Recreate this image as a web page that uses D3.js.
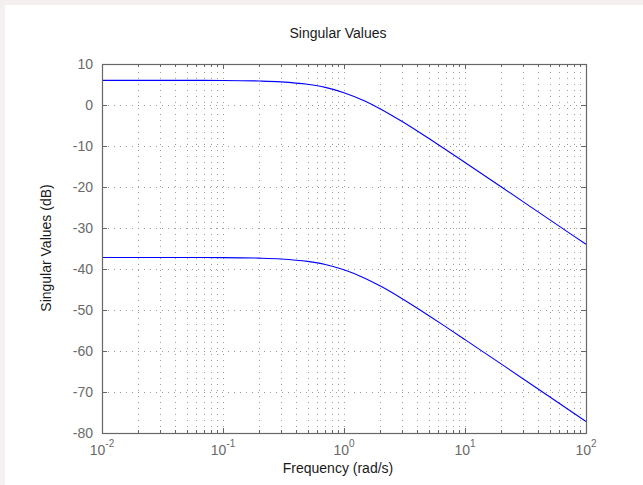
<!DOCTYPE html>
<html>
<head>
<meta charset="utf-8">
<script src="https://cdn.jsdelivr.net/npm/d3@7"></script>
<style>
  html, body { margin: 0; padding: 0; background: #ffffff; }
  svg { display: block; }
  text { font-family: "Liberation Sans", Arial, Helvetica, sans-serif; }
</style>
</head>
<body>
<svg id="chart" width="643" height="485"></svg>
<script>
// Frequency samples (rad/s)
const freqs = [0.01, 0.02, 0.05, 0.1, 0.2, 0.3, 0.5, 0.7, 1, 1.5, 2, 3, 5, 7, 10, 20, 50, 100];
// Largest singular value (dB)
const sigmaMax = [6.0, 6.0, 6.0, 5.98, 5.85, 5.65, 5.05, 4.29, 3.0, 0.9, -0.97, -3.98, -8.13, -10.97, -14.02, -20.0, -27.96, -33.98];
// Smallest singular value (dB)
const sigmaMin = [-37.2, -37.2, -37.2, -37.22, -37.35, -37.55, -38.15, -38.91, -40.2, -42.3, -44.17, -47.18, -51.33, -54.17, -57.22, -63.2, -71.16, -77.18];

const xDecades = [0.01, 0.1, 1, 10, 100];
const xExponents = ["-2", "-1", "0", "1", "2"];
const yTicks = [-80, -70, -60, -50, -40, -30, -20, -10, 0, 10];

const W = 643, H = 485;
const m = { left: 102, right: 586, top: 64, bottom: 433 };
const svg = d3.select("#chart");

// figure background strip
svg.append("rect").attr("x", 0).attr("y", 0).attr("width", W).attr("height", H).attr("fill", "#f6efef");
svg.append("rect").attr("x", 5).attr("y", 5).attr("width", W - 5).attr("height", H - 5).attr("fill", "#ffffff");

const x = d3.scaleLog().domain([0.01, 100]).range([m.left, m.right]);
const y = d3.scaleLinear().domain([-80, 10]).range([m.bottom, m.top]);

// minor decade positions 2..9 of each decade
const minor = [];
for (let d = 0; d < xDecades.length - 1; d++) {
  for (let k = 2; k <= 9; k++) minor.push(xDecades[d] * k);
}

const grid = svg.append("g").attr("stroke", "#8a8a8a").attr("stroke-width", 1)
  .attr("stroke-dasharray", "1,5").attr("fill", "none").attr("opacity", 0.85);

grid.selectAll("line.v").data(minor.concat(xDecades.slice(1, -1))).join("line")
  .attr("x1", d => Math.round(x(d)) + 0.5).attr("x2", d => Math.round(x(d)) + 0.5)
  .attr("y1", m.bottom).attr("y2", m.top);

grid.selectAll("line.h").data(yTicks.slice(1, -1)).join("line")
  .attr("y1", d => Math.round(y(d)) + 0.5).attr("y2", d => Math.round(y(d)) + 0.5)
  .attr("x1", m.left).attr("x2", m.right);

// singular value curves
const line = d3.line().x((d, i) => x(freqs[i])).y(d => y(d)).curve(d3.curveMonotoneX);
[sigmaMax, sigmaMin].forEach(s => {
  svg.append("path").datum(s).attr("d", line)
    .attr("fill", "none").attr("stroke", "#0000ff").attr("stroke-width", 1.1);
});

// axes with inward ticks on all four sides
const axisColor = "#666666";
const ticks = svg.append("g").attr("stroke", axisColor).attr("stroke-width", 1);
minor.forEach(v => {
  const px = Math.round(x(v)) + 0.5;
  ticks.append("line").attr("x1", px).attr("x2", px).attr("y1", m.bottom).attr("y2", m.bottom - 3);
  ticks.append("line").attr("x1", px).attr("x2", px).attr("y1", m.top).attr("y2", m.top + 3);
});
xDecades.forEach(v => {
  const px = Math.round(x(v)) + 0.5;
  ticks.append("line").attr("x1", px).attr("x2", px).attr("y1", m.bottom).attr("y2", m.bottom - 5);
  ticks.append("line").attr("x1", px).attr("x2", px).attr("y1", m.top).attr("y2", m.top + 5);
});
yTicks.forEach(v => {
  const py = Math.round(y(v)) + 0.5;
  ticks.append("line").attr("x1", m.left).attr("x2", m.left + 5).attr("y1", py).attr("y2", py);
  ticks.append("line").attr("x1", m.right).attr("x2", m.right - 5).attr("y1", py).attr("y2", py);
});

svg.append("rect")
  .attr("x", m.left + 0.5).attr("y", m.top + 0.5)
  .attr("width", m.right - m.left).attr("height", m.bottom - m.top)
  .attr("fill", "none").attr("stroke", axisColor).attr("stroke-width", 1.2);

// tick labels
const tickColor = "#6a6a6a";
svg.append("g").selectAll("text").data(yTicks).join("text")
  .attr("x", m.left - 9).attr("y", d => y(d)).attr("dy", "0.35em")
  .attr("text-anchor", "end").attr("font-size", 14).attr("fill", tickColor)
  .text(d => d);

const xl = svg.append("g").selectAll("text").data(xDecades).join("text")
  .attr("x", d => x(d)).attr("y", 455)
  .attr("text-anchor", "middle").attr("font-size", 14).attr("fill", tickColor);
xl.append("tspan").text("10");
xl.append("tspan").attr("dy", -8).attr("font-size", 10).text((d, i) => xExponents[i]);

// titles
svg.append("text").attr("x", 338).attr("y", 38).attr("text-anchor", "middle")
  .attr("font-size", 14).attr("fill", "#1a1a1a").text("Singular Values");
svg.append("text").attr("x", 338).attr("y", 473).attr("text-anchor", "middle")
  .attr("font-size", 14).attr("fill", "#1a1a1a").text("Frequency (rad/s)");
svg.append("text").attr("transform", "translate(51,248) rotate(-90)").attr("text-anchor", "middle")
  .attr("font-size", 14).attr("fill", "#1a1a1a").text("Singular Values (dB)");
</script>
</body>
</html>
